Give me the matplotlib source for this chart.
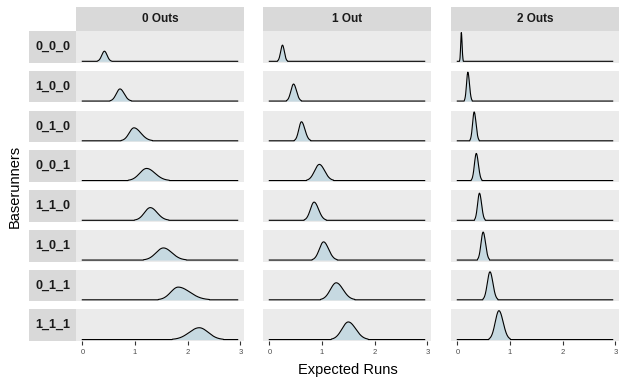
import numpy as np
import matplotlib
matplotlib.use("Agg")
import matplotlib.pyplot as plt

plt.rcParams['font.family'] = ['Liberation Sans', 'DejaVu Sans']

# ---- data ----
outs_labels = ["0 Outs", "1 Out", "2 Outs"]
runner_labels = ["0_0_0", "1_0_0", "0_1_0", "0_0_1", "1_1_0", "1_0_1", "0_1_1", "1_1_1"]
x_ticks = [0, 1, 2, 3]

# mode of each density (rows = baserunners, columns = outs)
mode_0 = [0.42, 0.715, 0.98, 1.22, 1.29, 1.54, 1.82, 2.22]
mode_1 = [0.25, 0.46, 0.61, 0.95, 0.85, 1.03, 1.27, 1.50]
mode_2 = [0.076, 0.20, 0.32, 0.36, 0.42, 0.49, 0.62, 0.79]
# left / right spread
sdl_0 = [0.05, 0.07, 0.09, 0.13, 0.11, 0.14, 0.14, 0.19]
sdr_0 = [0.05, 0.08, 0.13, 0.16, 0.13, 0.16, 0.22, 0.17]
sdl_1 = [0.035, 0.05, 0.05, 0.09, 0.07, 0.08, 0.11, 0.12]
sdr_1 = [0.035, 0.055, 0.065, 0.10, 0.085, 0.095, 0.13, 0.14]
sdl_2 = [0.012, 0.025, 0.03, 0.035, 0.035, 0.04, 0.05, 0.07]
sdr_2 = [0.014, 0.03, 0.035, 0.04, 0.04, 0.045, 0.055, 0.08]
# peak height (share of panel)
peak_0 = [0.35, 0.42, 0.45, 0.42, 0.44, 0.42, 0.44, 0.41]
peak_1 = [0.56, 0.59, 0.66, 0.56, 0.63, 0.63, 0.59, 0.61]
peak_2 = [1.00, 1.00, 1.00, 0.94, 0.94, 0.97, 0.97, 1.00]
x_range = [0.0, 2.95]

modes = [mode_0, mode_1, mode_2]
sdls = [sdl_0, sdl_1, sdl_2]
sdrs = [sdr_0, sdr_1, sdr_2]
peaks = [peak_0, peak_1, peak_2]

# ---- layout (pixels) ----
W, H = 627, 385
fig = plt.figure(figsize=(W / 100, H / 100), dpi=100)

col_x = [76, 263, 451]
col_w = 168
row_top0 = 31
row_h = 31.75
row_gap = 8
strip_l_x, strip_l_w = 29, 47
strip_t_y, strip_t_h = 7, 24

panel_bg = "#EBEBEB"
strip_bg = "#D9D9D9"
fill_col = "#C6D9E1"


def add_ax(x, y_top, w, h):
    return fig.add_axes([x / W, 1 - (y_top + h) / H, w / W, h / H])


xg = np.linspace(x_range[0], x_range[1], 800)

for j, lab in enumerate(outs_labels):
    sax = add_ax(col_x[j], strip_t_y, col_w, strip_t_h)
    sax.set_facecolor(strip_bg)
    sax.set_xticks([]); sax.set_yticks([])
    for s in sax.spines.values():
        s.set_visible(False)
    sax.text(0.5, 0.5, lab, ha="center", va="center", fontsize=8.5,
             fontweight="bold", color="#1A1A1A", transform=sax.transAxes)

for i, rlab in enumerate(runner_labels):
    top = row_top0 + i * (row_h + row_gap)
    sax = add_ax(strip_l_x, top, strip_l_w, row_h)
    sax.set_facecolor(strip_bg)
    sax.set_xticks([]); sax.set_yticks([])
    for s in sax.spines.values():
        s.set_visible(False)
    sax.text(0.5, 0.5, rlab, ha="center", va="center", fontsize=9,
             fontweight="bold", color="#1A1A1A", transform=sax.transAxes)
    for j in range(3):
        ax = add_ax(col_x[j], top, col_w, row_h)
        ax.set_facecolor(panel_bg)
        m = modes[j][i]
        sd = np.where(xg < m, sdls[j][i], sdrs[j][i])
        z = (xg - m) / sd
        y = peaks[j][i] * np.exp(-0.5 * z ** 2)
        y[np.abs(z) > 2.7] = 0.0
        ax.fill_between(xg, 0, y, color=fill_col, lw=0)
        ax.plot(xg, y, color="black", lw=0.8)
        ax.set_xlim(-0.12, 3.07)
        ax.set_ylim(-0.05, 1.05)
        for s in ax.spines.values():
            s.set_visible(False)
        ax.set_yticks([])
        if i == len(runner_labels) - 1:
            ax.set_xticks(x_ticks)
            ax.set_xticklabels([str(t) for t in x_ticks])
            ax.tick_params(axis="x", length=3, width=0.8, color="#333333",
                           labelsize=5.5, labelcolor="#4D4D4D", pad=3)
        else:
            ax.set_xticks([])

fig.text((col_x[0] + col_x[2] + col_w) / 2 / W, 1 - 370 / H, "Expected Runs",
         ha="center", va="center", fontsize=10.5, color="black")
fig.text(15 / W, 1 - 186 / H, "Baserunners", ha="center", va="center",
         rotation=90, fontsize=10.5, color="black")

fig.savefig("out.png", dpi=100, facecolor="white")
